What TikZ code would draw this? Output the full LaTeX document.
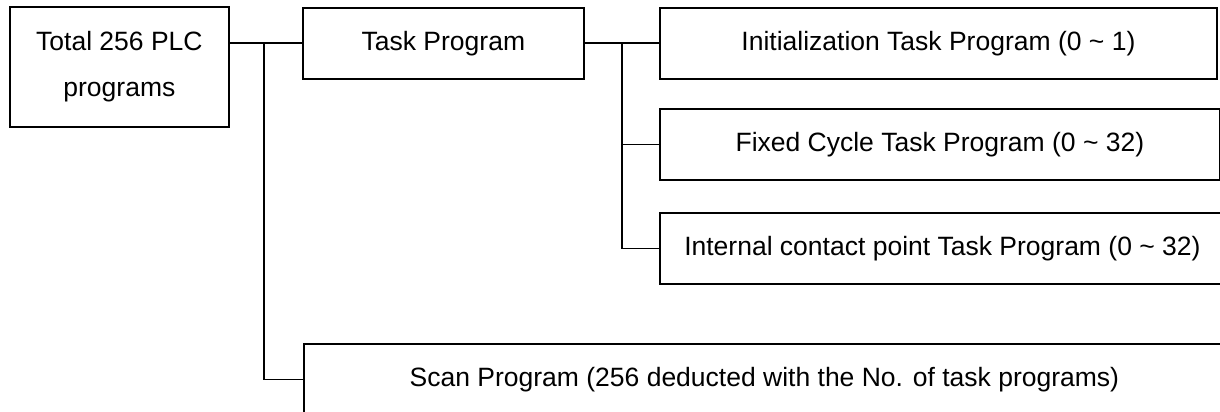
\documentclass[tikz,border=0pt]{standalone}
\usepackage{fontspec}
\setmainfont{Liberation Sans}
\begin{document}
\begin{tikzpicture}[x=1pt,y=-1pt,
  every node/.style={font=\fontsize{26.5}{46}\selectfont},
  boxnode/.style={draw,line width=1.8pt,anchor=north west,inner sep=0pt,align=center},
  link/.style={line width=1.8pt}]
\useasboundingbox (0,0) rectangle (1220,412);
\clip (0,0) rectangle (1220,412);
\node[boxnode,minimum width=219pt,minimum height=120pt] (total) at (9,6) {Total 256 PLC\\programs};
\node[boxnode,minimum width=281pt,minimum height=71pt] (task) at (302,7) {Task Program};
\node[boxnode,minimum width=557pt,minimum height=71pt] (init) at (659,7) {Initialization Task Program (0 \char`\~{} 1)};
\node[boxnode,minimum width=560pt,minimum height=71pt] (fixed) at (659,108) {Fixed Cycle Task Program (0 \char`\~{} 32)};
\node[boxnode,minimum width=565pt,minimum height=71pt] (internal) at (659,212) {Internal contact point Task Program (0 \char`\~{} 32)};
\node[boxnode,minimum width=921pt,minimum height=71pt] (scan) at (303,343) {Scan Program (256 deducted with the No. of task programs)};
\coordinate (b1) at (264,42.5);
\coordinate (b2) at (622,42.5);
\draw[link] (total.east |- task.west) -- (task.west);
\draw[link] (b1) |- (scan.west);
\draw[link] (task.east) -- (init.west);
\draw[link] (b2) |- (fixed.west);
\draw[link] (b2) |- (internal.west);
\end{tikzpicture}
\end{document}
